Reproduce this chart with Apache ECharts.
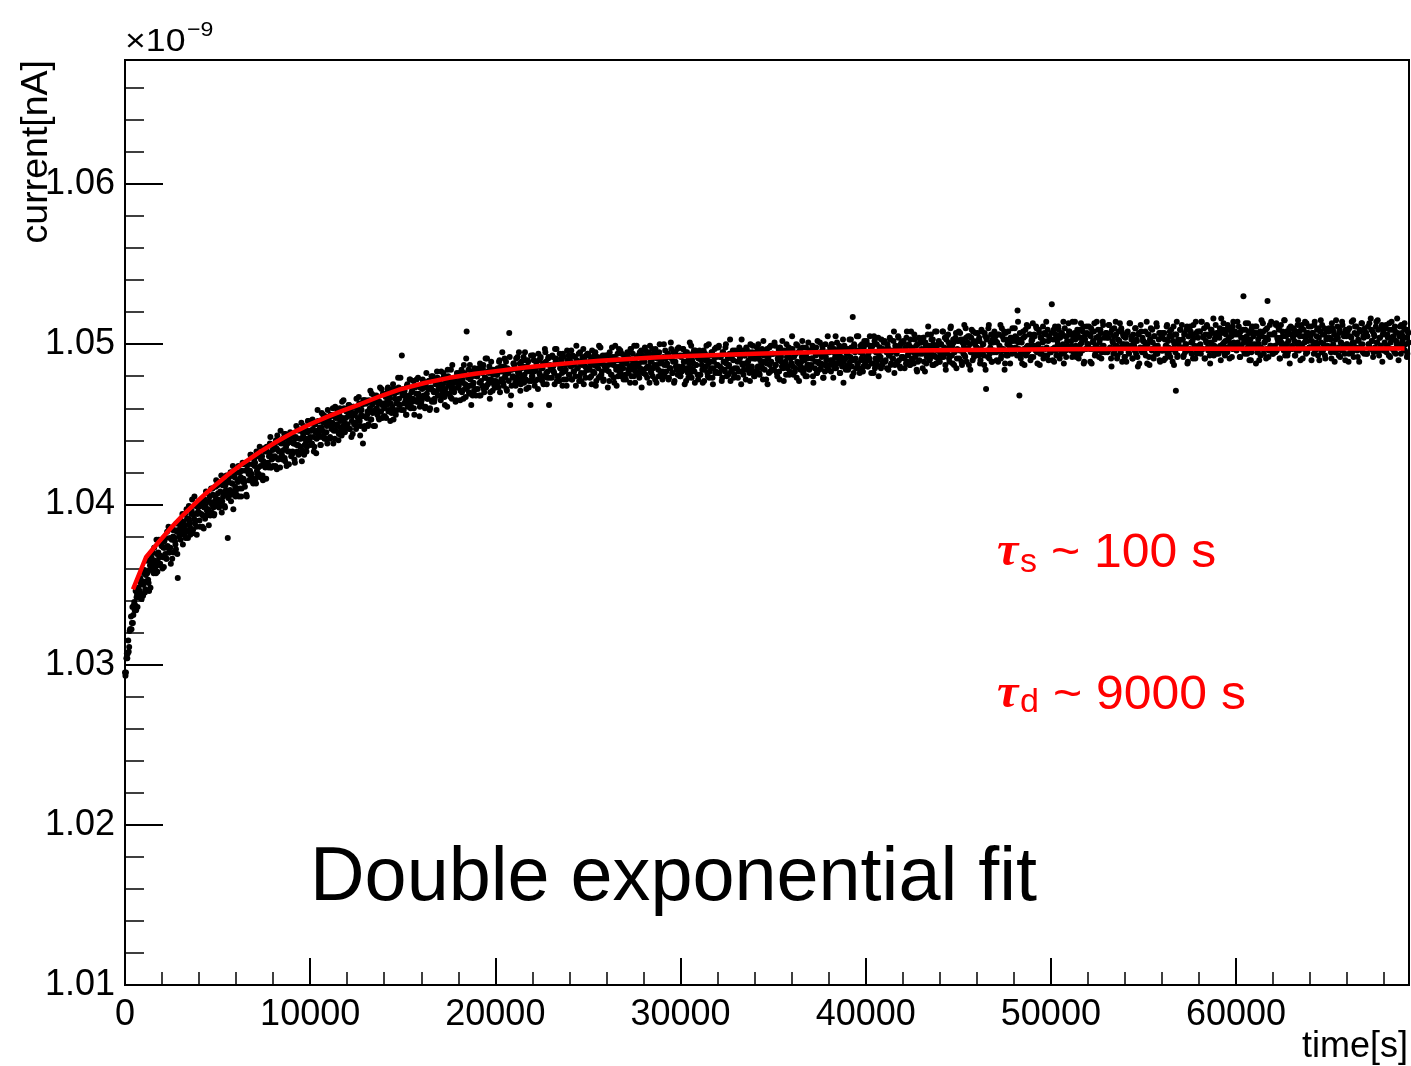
<!DOCTYPE html>
<html>
<head>
<meta charset="utf-8">
<title>Double exponential fit</title>
<script src="https://cdn.jsdelivr.net/npm/echarts@6/dist/echarts.min.js"></script>
<style>
  html, body { margin: 0; padding: 0; background: #fff; }
  #chart { width: 1411px; height: 1066px; }
</style>
</head>
<body>
<div id="chart"></div>
<script>
// two interleaved reading streams, one every SAMPLE_STEP s each; current in units of 1e-9
const SAMPLE_STEP = 50;
const ODD_OFFSET = 25;

// readings at t = 0, 50, 100, ...
const currentEven = [
  1.0295,1.0295,1.0307,1.0307,1.0308,1.0321,1.0322,1.0322,1.0336,1.0331,1.0339,1.0337,1.0334,1.0344,1.0348,1.0342,1.0346,1.0351,1.0341,1.0352,
  1.0350,1.0359,1.0347,1.0365,1.0357,1.0353,1.0346,1.0362,1.0365,1.0360,1.0370,1.0357,1.0365,1.0361,1.0378,1.0358,1.0370,1.0367,1.0363,1.0375,
  1.0374,1.0367,1.0361,1.0373,1.0379,1.0366,1.0374,1.0386,1.0370,1.0373,1.0385,1.0366,1.0380,1.0384,1.0377,1.0372,1.0383,1.0354,1.0389,1.0381,
  1.0378,1.0386,1.0394,1.0384,1.0381,1.0394,1.0384,1.0391,1.0379,1.0399,1.0389,1.0385,1.0396,1.0382,1.0394,1.0405,1.0390,1.0386,1.0394,1.0398,
  1.0395,1.0386,1.0399,1.0402,1.0393,1.0385,1.0403,1.0399,1.0393,1.0407,1.0397,1.0402,1.0393,1.0410,1.0400,1.0406,1.0393,1.0402,1.0411,1.0399,
  1.0412,1.0403,1.0399,1.0408,1.0418,1.0402,1.0405,1.0414,1.0398,1.0409,1.0414,1.0379,1.0414,1.0407,1.0420,1.0406,1.0413,1.0397,1.0418,1.0411,
  1.0409,1.0420,1.0414,1.0405,1.0420,1.0417,1.0410,1.0426,1.0416,1.0414,1.0426,1.0406,1.0422,1.0425,1.0415,1.0421,1.0431,1.0419,1.0414,1.0425,
  1.0424,1.0416,1.0433,1.0419,1.0423,1.0431,1.0417,1.0428,1.0430,1.0415,1.0426,1.0433,1.0424,1.0436,1.0426,1.0423,1.0432,1.0442,1.0423,1.0430,
  1.0424,1.0435,1.0430,1.0440,1.0422,1.0434,1.0439,1.0429,1.0446,1.0433,1.0428,1.0438,1.0444,1.0427,1.0436,1.0441,1.0433,1.0425,1.0444,1.0439,
  1.0442,1.0433,1.0438,1.0428,1.0441,1.0449,1.0433,1.0437,1.0446,1.0432,1.0441,1.0427,1.0445,1.0449,1.0437,1.0441,1.0433,1.0445,1.0452,1.0440,
  1.0442,1.0451,1.0438,1.0447,1.0433,1.0450,1.0445,1.0441,1.0459,1.0444,1.0452,1.0437,1.0448,1.0442,1.0456,1.0444,1.0451,1.0441,1.0449,1.0459,
  1.0453,1.0441,1.0456,1.0447,1.0451,1.0438,1.0456,1.0461,1.0446,1.0450,1.0454,1.0444,1.0460,1.0448,1.0443,1.0454,1.0465,1.0451,1.0447,1.0458,
  1.0448,1.0455,1.0462,1.0447,1.0458,1.0452,1.0444,1.0461,1.0456,1.0451,1.0466,1.0449,1.0459,1.0463,1.0443,1.0456,1.0462,1.0438,1.0465,1.0449,
  1.0465,1.0454,1.0458,1.0450,1.0464,1.0471,1.0453,1.0462,1.0458,1.0468,1.0449,1.0464,1.0460,1.0467,1.0454,1.0464,1.0458,1.0472,1.0454,1.0463,
  1.0460,1.0469,1.0454,1.0464,1.0473,1.0459,1.0467,1.0463,1.0457,1.0472,1.0453,1.0469,1.0472,1.0463,1.0459,1.0479,1.0466,1.0462,1.0471,1.0493,
  1.0468,1.0459,1.0471,1.0465,1.0456,1.0475,1.0463,1.0468,1.0478,1.0461,1.0471,1.0466,1.0460,1.0474,1.0465,1.0478,1.0464,1.0469,1.0455,1.0473,
  1.0463,1.0472,1.0477,1.0467,1.0460,1.0474,1.0469,1.0466,1.0477,1.0459,1.0472,1.0480,1.0465,1.0471,1.0464,1.0477,1.0470,1.0483,1.0468,1.0475,
  1.0478,1.0465,1.0474,1.0470,1.0482,1.0467,1.0472,1.0477,1.0461,1.0480,1.0469,1.0475,1.0484,1.0466,1.0473,1.0471,1.0479,1.0464,1.0476,1.0481,
  1.0473,1.0482,1.0465,1.0479,1.0470,1.0476,1.0487,1.0472,1.0467,1.0508,1.0474,1.0484,1.0469,1.0478,1.0462,1.0480,1.0475,1.0471,1.0483,1.0468,
  1.0480,1.0472,1.0485,1.0476,1.0468,1.0483,1.0474,1.0487,1.0470,1.0479,1.0473,1.0491,1.0475,1.0482,1.0466,1.0478,1.0484,1.0471,1.0477,1.0474,
  1.0473,1.0484,1.0481,1.0476,1.0489,1.0470,1.0486,1.0478,1.0483,1.0474,1.0491,1.0479,1.0472,1.0485,1.0482,1.0507,1.0462,1.0468,1.0484,1.0480,
  1.0488,1.0479,1.0474,1.0484,1.0492,1.0477,1.0482,1.0471,1.0489,1.0480,1.0486,1.0476,1.0495,1.0478,1.0483,1.0490,1.0473,1.0485,1.0462,1.0477,
  1.0480,1.0493,1.0483,1.0477,1.0489,1.0486,1.0472,1.0490,1.0481,1.0492,1.0478,1.0485,1.0475,1.0488,1.0495,1.0482,1.0479,1.0491,1.0462,1.0487,
  1.0486,1.0479,1.0492,1.0483,1.0475,1.0489,1.0497,1.0480,1.0488,1.0477,1.0485,1.0491,1.0482,1.0494,1.0478,1.0487,1.0484,1.0474,1.0490,1.0493,
  1.0481,1.0489,1.0496,1.0478,1.0487,1.0483,1.0492,1.0474,1.0490,1.0485,1.0494,1.0480,1.0488,1.0477,1.0491,1.0497,1.0482,1.0486,1.0493,1.0484,
  1.0494,1.0484,1.0479,1.0490,1.0475,1.0492,1.0487,1.0482,1.0495,1.0477,1.0489,1.0485,1.0499,1.0480,1.0488,1.0483,1.0493,1.0478,1.0486,1.0491,
  1.0484,1.0493,1.0487,1.0477,1.0491,1.0481,1.0498,1.0489,1.0479,1.0492,1.0486,1.0474,1.0494,1.0490,1.0483,1.0496,1.0480,1.0488,1.0485,1.0493,
  1.0491,1.0478,1.0489,1.0494,1.0482,1.0486,1.0497,1.0480,1.0490,1.0484,1.0499,1.0476,1.0487,1.0492,1.0481,1.0488,1.0495,1.0483,1.0473,1.0493,
  1.0482,1.0489,1.0496,1.0485,1.0479,1.0493,1.0486,1.0499,1.0483,1.0490,1.0480,1.0494,1.0487,1.0497,1.0476,1.0491,1.0484,1.0495,1.0488,1.0481,
  1.0490,1.0483,1.0500,1.0480,1.0491,1.0487,1.0494,1.0478,1.0492,1.0485,1.0497,1.0482,1.0489,1.0476,1.0495,1.0486,1.0493,1.0481,1.0498,1.0484,
  1.0480,1.0493,1.0486,1.0497,1.0484,1.0489,1.0477,1.0495,1.0482,1.0491,1.0501,1.0485,1.0479,1.0494,1.0488,1.0483,1.0496,1.0487,1.0492,1.0478,
  1.0491,1.0481,1.0494,1.0487,1.0476,1.0496,1.0484,1.0490,1.0499,1.0482,1.0488,1.0479,1.0493,1.0485,1.0495,1.0475,1.0489,1.0497,1.0483,1.0492,
  1.0487,1.0498,1.0482,1.0492,1.0485,1.0479,1.0495,1.0489,1.0483,1.0500,1.0480,1.0491,1.0486,1.0494,1.0477,1.0493,1.0484,1.0490,1.0481,1.0496,
  1.0494,1.0485,1.0479,1.0496,1.0491,1.0483,1.0503,1.0487,1.0481,1.0493,1.0488,1.0498,1.0484,1.0489,1.0495,1.0477,1.0492,1.0486,1.0499,1.0482,
  1.0480,1.0491,1.0495,1.0485,1.0500,1.0482,1.0490,1.0487,1.0497,1.0478,1.0493,1.0484,1.0496,1.0488,1.0475,1.0492,1.0498,1.0483,1.0489,1.0494,
  1.0494,1.0484,1.0499,1.0487,1.0482,1.0491,1.0497,1.0478,1.0493,1.0489,1.0502,1.0485,1.0488,1.0496,1.0481,1.0492,1.0486,1.0498,1.0483,1.0491,
  1.0488,1.0497,1.0481,1.0493,1.0485,1.0500,1.0489,1.0495,1.0477,1.0496,1.0486,1.0492,1.0498,1.0483,1.0490,1.0480,1.0494,1.0487,1.0501,1.0484,
  1.0496,1.0487,1.0491,1.0480,1.0498,1.0485,1.0493,1.0482,1.0502,1.0489,1.0484,1.0495,1.0488,1.0499,1.0479,1.0494,1.0483,1.0492,1.0486,1.0505,
  1.0484,1.0495,1.0490,1.0500,1.0487,1.0479,1.0497,1.0492,1.0485,1.0501,1.0488,1.0494,1.0482,1.0498,1.0489,1.0496,1.0476,1.0499,1.0491,1.0486,
  1.0494,1.0484,1.0497,1.0489,1.0503,1.0486,1.0517,1.0482,1.0499,1.0491,1.0496,1.0488,1.0505,1.0485,1.0495,1.0490,1.0500,1.0483,1.0498,1.0487,
  1.0489,1.0502,1.0486,1.0494,1.0491,1.0499,1.0482,1.0496,1.0488,1.0505,1.0485,1.0495,1.0500,1.0490,1.0480,1.0498,1.0492,1.0503,1.0487,1.0497,
  1.0501,1.0489,1.0496,1.0485,1.0498,1.0493,1.0504,1.0487,1.0495,1.0491,1.0502,1.0482,1.0499,1.0488,1.0497,1.0505,1.0490,1.0486,1.0500,1.0492,
  1.0492,1.0501,1.0485,1.0498,1.0504,1.0489,1.0494,1.0499,1.0487,1.0508,1.0491,1.0496,1.0488,1.0503,1.0493,1.0484,1.0500,1.0495,1.0490,1.0502,
  1.0501,1.0494,1.0504,1.0489,1.0483,1.0499,1.0492,1.0506,1.0495,1.0490,1.0498,1.0503,1.0487,1.0500,1.0493,1.0508,1.0488,1.0497,1.0491,1.0502,
  1.0489,1.0500,1.0496,1.0508,1.0492,1.0498,1.0487,1.0503,1.0494,1.0506,1.0491,1.0499,1.0511,1.0493,1.0488,1.0501,1.0495,1.0504,1.0485,1.0497,
  1.0502,1.0491,1.0507,1.0496,1.0487,1.0503,1.0499,1.0493,1.0510,1.0489,1.0501,1.0497,1.0505,1.0484,1.0504,1.0495,1.0508,1.0492,1.0500,1.0494,
  1.0498,1.0507,1.0493,1.0502,1.0490,1.0509,1.0495,1.0500,1.0487,1.0505,1.0472,1.0504,1.0492,1.0512,1.0494,1.0501,1.0489,1.0503,1.0496,1.0508,
  1.0505,1.0495,1.0501,1.0489,1.0506,1.0498,1.0491,1.0510,1.0496,1.0503,1.0484,1.0507,1.0493,1.0500,1.0508,1.0497,1.0488,1.0504,1.0494,1.0502,
  1.0495,1.0510,1.0498,1.0504,1.0521,1.0501,1.0468,1.0494,1.0503,1.0488,1.0508,1.0497,1.0505,1.0493,1.0512,1.0499,1.0496,1.0506,1.0490,1.0502,
  1.0503,1.0492,1.0506,1.0499,1.0511,1.0495,1.0498,1.0509,1.0487,1.0504,1.0494,1.0501,1.0491,1.0507,1.0497,1.0514,1.0493,1.0502,1.0505,1.0496,
  1.0495,1.0525,1.0490,1.0509,1.0498,1.0506,1.0493,1.0502,1.0511,1.0497,1.0504,1.0494,1.0507,1.0500,1.0488,1.0510,1.0496,1.0505,1.0499,1.0513,
  1.0508,1.0498,1.0502,1.0492,1.0505,1.0495,1.0514,1.0499,1.0494,1.0506,1.0491,1.0509,1.0500,1.0504,1.0496,1.0511,1.0489,1.0503,1.0497,1.0507,
  1.0500,1.0511,1.0497,1.0505,1.0488,1.0508,1.0501,1.0513,1.0494,1.0504,1.0498,1.0509,1.0492,1.0503,1.0507,1.0495,1.0514,1.0499,1.0496,1.0506,
  1.0507,1.0495,1.0504,1.0512,1.0498,1.0491,1.0509,1.0501,1.0505,1.0496,1.0514,1.0499,1.0493,1.0508,1.0502,1.0497,1.0510,1.0489,1.0506,1.0500,
  1.0492,1.0505,1.0500,1.0508,1.0495,1.0513,1.0498,1.0503,1.0491,1.0506,1.0499,1.0510,1.0494,1.0502,1.0486,1.0507,1.0497,1.0512,1.0496,1.0504,
  1.0502,1.0495,1.0508,1.0498,1.0488,1.0506,1.0492,1.0503,1.0510,1.0496,1.0501,1.0491,1.0505,1.0499,1.0513,1.0494,1.0497,1.0507,1.0489,1.0504,
  1.0496,1.0507,1.0490,1.0503,1.0499,1.0511,1.0494,1.0498,1.0505,1.0492,1.0509,1.0497,1.0502,1.0487,1.0506,1.0471,1.0514,1.0493,1.0501,1.0498,
  1.0509,1.0498,1.0503,1.0492,1.0506,1.0495,1.0500,1.0511,1.0489,1.0505,1.0497,1.0508,1.0494,1.0502,1.0512,1.0499,1.0491,1.0507,1.0496,1.0504,
  1.0499,1.0508,1.0494,1.0514,1.0497,1.0504,1.0491,1.0506,1.0501,1.0511,1.0496,1.0505,1.0488,1.0509,1.0500,1.0507,1.0493,1.0503,1.0512,1.0498,
  1.0507,1.0494,1.0504,1.0499,1.0516,1.0496,1.0509,1.0501,1.0493,1.0506,1.0498,1.0512,1.0502,1.0491,1.0510,1.0505,1.0497,1.0514,1.0500,1.0508,
  1.0497,1.0506,1.0501,1.0511,1.0492,1.0508,1.0499,1.0504,1.0530,1.0495,1.0509,1.0502,1.0494,1.0513,1.0500,1.0507,1.0490,1.0510,1.0498,1.0505,
  1.0507,1.0500,1.0511,1.0495,1.0503,1.0490,1.0508,1.0498,1.0505,1.0513,1.0494,1.0501,1.0509,1.0497,1.0527,1.0492,1.0506,1.0499,1.0514,1.0496,
  1.0494,1.0506,1.0499,1.0512,1.0496,1.0503,1.0510,1.0491,1.0504,1.0501,1.0508,1.0497,1.0515,1.0493,1.0505,1.0500,1.0495,1.0507,1.0488,1.0511,
  1.0506,1.0497,1.0510,1.0502,1.0493,1.0508,1.0500,1.0515,1.0496,1.0505,1.0499,1.0512,1.0491,1.0509,1.0501,1.0504,1.0513,1.0495,1.0507,1.0498,
  1.0498,1.0511,1.0502,1.0507,1.0494,1.0514,1.0497,1.0505,1.0500,1.0510,1.0490,1.0508,1.0501,1.0512,1.0496,1.0506,1.0493,1.0509,1.0504,1.0499,
  1.0508,1.0498,1.0503,1.0491,1.0510,1.0500,1.0506,1.0495,1.0515,1.0497,1.0504,1.0493,1.0509,1.0501,1.0496,1.0512,1.0499,1.0507,1.0490,1.0505,
  1.0500,1.0509,1.0494,1.0505,1.0497,1.0514,1.0501,1.0492,1.0507,1.0498,1.0511,1.0496,1.0503,1.0489,1.0508,1.0499,1.0513,1.0495,1.0504,1.0510,
  1.0507,1.0494,1.0505,1.0500,1.0513,1.0497,1.0509,1.0502,1.0492,1.0506,1.0498,1.0511,1.0501,1.0515,1.0495,1.0504,1.0499,1.0510,1.0489,1.0508,
  1.0496,1.0506,1.0512,1.0499,1.0504,1.0493,1.0509,1.0501,1.0514,1.0497,1.0505,1.0495,1.0508,1.0502,1.0516,1.0498,1.0500,1.0511,1.0494,1.0507,
  1.0505,1.0497,1.0513,1.0500,1.0509,1.0494,1.0507
];

// readings at t = 25, 75, 125, ...
const currentOdd = [
  1.0293,1.0304,1.0304,1.0315,1.0311,1.0322,1.0330,1.0326,1.0326,1.0337,1.0334,1.0346,1.0342,1.0336,1.0348,1.0343,1.0354,1.0343,1.0350,1.0343,
  1.0357,1.0345,1.0356,1.0352,1.0365,1.0351,1.0359,1.0348,1.0367,1.0364,1.0358,1.0373,1.0362,1.0357,1.0369,1.0364,1.0378,1.0362,1.0368,1.0374,
  1.0360,1.0373,1.0377,1.0369,1.0366,1.0383,1.0373,1.0370,1.0379,1.0363,1.0378,1.0384,1.0370,1.0379,1.0375,1.0388,1.0369,1.0384,1.0380,1.0387,
  1.0390,1.0382,1.0375,1.0389,1.0387,1.0379,1.0397,1.0383,1.0391,1.0387,1.0381,1.0394,1.0403,1.0384,1.0391,1.0388,1.0399,1.0381,1.0395,1.0401,
  1.0390,1.0402,1.0394,1.0386,1.0401,1.0398,1.0391,1.0408,1.0396,1.0402,1.0387,1.0405,1.0401,1.0395,1.0410,1.0398,1.0394,1.0405,1.0415,1.0402,
  1.0407,1.0398,1.0414,1.0402,1.0395,1.0412,1.0407,1.0399,1.0412,1.0418,1.0407,1.0404,1.0417,1.0409,1.0402,1.0413,1.0424,1.0408,1.0417,1.0405,
  1.0406,1.0415,1.0424,1.0410,1.0416,1.0405,1.0421,1.0414,1.0425,1.0411,1.0421,1.0405,1.0425,1.0419,1.0415,1.0431,1.0417,1.0425,1.0413,1.0428,
  1.0426,1.0413,1.0421,1.0430,1.0419,1.0436,1.0424,1.0428,1.0418,1.0427,1.0435,1.0423,1.0416,1.0433,1.0425,1.0430,1.0438,1.0423,1.0428,1.0434,
  1.0429,1.0437,1.0424,1.0435,1.0443,1.0428,1.0433,1.0423,1.0438,1.0431,1.0441,1.0434,1.0429,1.0444,1.0424,1.0438,1.0441,1.0433,1.0445,1.0430,
  1.0444,1.0432,1.0438,1.0426,1.0442,1.0437,1.0447,1.0431,1.0441,1.0436,1.0451,1.0434,1.0443,1.0431,1.0447,1.0439,1.0436,1.0452,1.0441,1.0446,
  1.0437,1.0446,1.0453,1.0442,1.0436,1.0450,1.0432,1.0446,1.0452,1.0442,1.0448,1.0437,1.0457,1.0446,1.0451,1.0441,1.0455,1.0445,1.0438,1.0454,
  1.0451,1.0442,1.0455,1.0449,1.0460,1.0446,1.0441,1.0454,1.0449,1.0459,1.0440,1.0456,1.0452,1.0446,1.0464,1.0449,1.0460,1.0445,1.0454,1.0448,
  1.0450,1.0462,1.0447,1.0458,1.0442,1.0455,1.0461,1.0450,1.0457,1.0447,1.0460,1.0454,1.0467,1.0452,1.0449,1.0459,1.0455,1.0465,1.0447,1.0463,
  1.0463,1.0456,1.0449,1.0465,1.0460,1.0453,1.0469,1.0457,1.0449,1.0464,1.0459,1.0468,1.0456,1.0463,1.0453,1.0473,1.0458,1.0462,1.0469,1.0455,
  1.0455,1.0467,1.0462,1.0472,1.0458,1.0466,1.0452,1.0470,1.0461,1.0475,1.0459,1.0466,1.0456,1.0470,1.0463,1.0473,1.0462,1.0479,1.0459,1.0469,
  1.0472,1.0463,1.0468,1.0456,1.0474,1.0461,1.0466,1.0478,1.0460,1.0470,1.0464,1.0477,1.0456,1.0473,1.0469,1.0464,1.0479,1.0467,1.0461,1.0473,
  1.0465,1.0478,1.0468,1.0473,1.0461,1.0482,1.0466,1.0472,1.0477,1.0460,1.0473,1.0464,1.0480,1.0470,1.0466,1.0475,1.0459,1.0479,1.0472,1.0477,
  1.0468,1.0483,1.0471,1.0475,1.0480,1.0462,1.0478,1.0469,1.0484,1.0474,1.0478,1.0467,1.0472,1.0487,1.0476,1.0470,1.0479,1.0465,1.0482,1.0473,
  1.0474,1.0477,1.0471,1.0484,1.0478,1.0466,1.0482,1.0475,1.0491,1.0473,1.0479,1.0470,1.0487,1.0474,1.0483,1.0468,1.0476,1.0485,1.0472,1.0480,
  1.0480,1.0484,1.0468,1.0488,1.0477,1.0482,1.0485,1.0472,1.0479,1.0491,1.0474,1.0483,1.0478,1.0486,1.0470,1.0489,1.0476,1.0481,1.0484,1.0473,
  1.0477,1.0481,1.0485,1.0473,1.0490,1.0483,1.0478,1.0495,1.0476,1.0486,1.0480,1.0489,1.0471,1.0482,1.0477,1.0492,1.0484,1.0474,1.0479,1.0488,
  1.0487,1.0476,1.0491,1.0479,1.0482,1.0495,1.0488,1.0475,1.0485,1.0478,1.0492,1.0481,1.0490,1.0472,1.0486,1.0489,1.0477,1.0483,1.0493,1.0480,
  1.0493,1.0490,1.0474,1.0484,1.0487,1.0478,1.0494,1.0482,1.0491,1.0485,1.0477,1.0488,1.0480,1.0497,1.0489,1.0475,1.0483,1.0492,1.0479,1.0486,
  1.0484,1.0493,1.0486,1.0482,1.0497,1.0491,1.0477,1.0488,1.0480,1.0494,1.0485,1.0490,1.0474,1.0492,1.0483,1.0487,1.0478,1.0496,1.0489,1.0481,
  1.0491,1.0486,1.0478,1.0493,1.0483,1.0488,1.0480,1.0499,1.0485,1.0489,1.0477,1.0495,1.0482,1.0487,1.0492,1.0475,1.0490,1.0479,1.0484,1.0494,
  1.0493,1.0485,1.0488,1.0480,1.0496,1.0483,1.0490,1.0494,1.0474,1.0486,1.0492,1.0479,1.0489,1.0498,1.0481,1.0491,1.0477,1.0487,1.0493,1.0484,
  1.0493,1.0473,1.0483,1.0495,1.0488,1.0481,1.0492,1.0487,1.0476,1.0499,1.0484,1.0490,1.0480,1.0497,1.0486,1.0482,1.0494,1.0489,1.0478,1.0491,
  1.0481,1.0488,1.0495,1.0484,1.0491,1.0476,1.0497,1.0487,1.0494,1.0480,1.0490,1.0483,1.0499,1.0486,1.0493,1.0479,1.0485,1.0496,1.0489,1.0482,
  1.0484,1.0498,1.0481,1.0493,1.0486,1.0495,1.0476,1.0489,1.0482,1.0497,1.0485,1.0492,1.0478,1.0494,1.0487,1.0491,1.0480,1.0500,1.0483,1.0490,
  1.0478,1.0492,1.0487,1.0496,1.0483,1.0488,1.0494,1.0479,1.0485,1.0501,1.0491,1.0482,1.0495,1.0477,1.0489,1.0484,1.0497,1.0486,1.0493,1.0480,
  1.0492,1.0483,1.0497,1.0489,1.0475,1.0495,1.0485,1.0493,1.0479,1.0488,1.0482,1.0499,1.0490,1.0484,1.0496,1.0476,1.0487,1.0494,1.0481,1.0491,
  1.0496,1.0481,1.0490,1.0484,1.0493,1.0477,1.0494,1.0486,1.0491,1.0480,1.0500,1.0483,1.0489,1.0495,1.0479,1.0485,1.0492,1.0482,1.0498,1.0487,
  1.0482,1.0499,1.0486,1.0492,1.0477,1.0495,1.0489,1.0484,1.0498,1.0488,1.0493,1.0481,1.0487,1.0503,1.0483,1.0491,1.0496,1.0479,1.0485,1.0494,
  1.0494,1.0489,1.0483,1.0498,1.0492,1.0475,1.0488,1.0496,1.0484,1.0493,1.0478,1.0497,1.0487,1.0490,1.0482,1.0500,1.0485,1.0495,1.0491,1.0480,
  1.0491,1.0483,1.0498,1.0486,1.0492,1.0481,1.0496,1.0488,1.0485,1.0502,1.0489,1.0493,1.0478,1.0497,1.0491,1.0482,1.0487,1.0499,1.0484,1.0494,
  1.0484,1.0501,1.0487,1.0494,1.0480,1.0490,1.0483,1.0498,1.0492,1.0486,1.0496,1.0477,1.0495,1.0489,1.0500,1.0485,1.0493,1.0481,1.0497,1.0488,
  1.0505,1.0486,1.0492,1.0483,1.0494,1.0479,1.0499,1.0488,1.0495,1.0484,1.0489,1.0502,1.0482,1.0493,1.0485,1.0498,1.0480,1.0491,1.0487,1.0496,
  1.0486,1.0491,1.0499,1.0476,1.0496,1.0489,1.0498,1.0482,1.0494,1.0488,1.0501,1.0485,1.0492,1.0497,1.0479,1.0487,1.0500,1.0490,1.0495,1.0484,
  1.0487,1.0498,1.0483,1.0500,1.0490,1.0495,1.0485,1.0505,1.0488,1.0496,1.0491,1.0499,1.0482,1.0492,1.0486,1.0503,1.0489,1.0497,1.0484,1.0494,
  1.0497,1.0487,1.0503,1.0492,1.0498,1.0480,1.0490,1.0500,1.0495,1.0485,1.0505,1.0488,1.0496,1.0482,1.0499,1.0491,1.0494,1.0486,1.0502,1.0489,
  1.0492,1.0500,1.0486,1.0490,1.0505,1.0497,1.0488,1.0499,1.0482,1.0502,1.0491,1.0495,1.0487,1.0504,1.0493,1.0498,1.0485,1.0496,1.0489,1.0501,
  1.0502,1.0490,1.0495,1.0500,1.0484,1.0493,1.0503,1.0488,1.0496,1.0491,1.0508,1.0487,1.0499,1.0494,1.0489,1.0504,1.0498,1.0485,1.0501,1.0492,
  1.0502,1.0491,1.0497,1.0488,1.0508,1.0493,1.0500,1.0487,1.0503,1.0498,1.0490,1.0495,1.0506,1.0492,1.0499,1.0483,1.0489,1.0504,1.0494,1.0501,
  1.0497,1.0485,1.0504,1.0495,1.0501,1.0488,1.0493,1.0511,1.0499,1.0491,1.0506,1.0494,1.0503,1.0487,1.0498,1.0492,1.0508,1.0496,1.0500,1.0489,
  1.0494,1.0500,1.0492,1.0508,1.0495,1.0504,1.0484,1.0505,1.0497,1.0501,1.0489,1.0510,1.0493,1.0499,1.0503,1.0487,1.0496,1.0507,1.0491,1.0502,
  1.0508,1.0496,1.0503,1.0489,1.0501,1.0494,1.0512,1.0492,1.0504,1.0497,1.0505,1.0487,1.0500,1.0495,1.0509,1.0490,1.0502,1.0493,1.0507,1.0498,
  1.0502,1.0494,1.0504,1.0488,1.0497,1.0508,1.0500,1.0493,1.0507,1.0484,1.0503,1.0496,1.0510,1.0491,1.0498,1.0506,1.0489,1.0501,1.0495,1.0505,
  1.0502,1.0490,1.0506,1.0496,1.0499,1.0512,1.0493,1.0505,1.0497,1.0508,1.0488,1.0503,1.0494,1.0493,1.0501,1.0501,1.0504,1.0498,1.0510,1.0495,
  1.0496,1.0505,1.0502,1.0493,1.0514,1.0497,1.0507,1.0491,1.0501,1.0494,1.0504,1.0487,1.0509,1.0498,1.0495,1.0511,1.0499,1.0506,1.0492,1.0503,
  1.0513,1.0499,1.0505,1.0496,1.0510,1.0488,1.0500,1.0507,1.0494,1.0504,1.0497,1.0511,1.0502,1.0493,1.0506,1.0498,1.0509,1.0490,1.0503,1.0495,
  1.0507,1.0497,1.0503,1.0489,1.0511,1.0496,1.0504,1.0500,1.0509,1.0491,1.0506,1.0494,1.0499,1.0514,1.0495,1.0505,1.0492,1.0502,1.0498,1.0508,
  1.0506,1.0496,1.0499,1.0514,1.0495,1.0507,1.0503,1.0492,1.0509,1.0498,1.0504,1.0494,1.0513,1.0501,1.0508,1.0488,1.0505,1.0497,1.0511,1.0500,
  1.0500,1.0506,1.0489,1.0510,1.0497,1.0502,1.0508,1.0493,1.0499,1.0514,1.0496,1.0505,1.0501,1.0509,1.0491,1.0498,1.0512,1.0504,1.0495,1.0507,
  1.0504,1.0496,1.0512,1.0497,1.0507,1.0486,1.0502,1.0494,1.0510,1.0499,1.0506,1.0491,1.0503,1.0498,1.0513,1.0495,1.0508,1.0500,1.0505,1.0492,
  1.0504,1.0489,1.0507,1.0497,1.0494,1.0513,1.0499,1.0505,1.0491,1.0501,1.0496,1.0510,1.0503,1.0492,1.0506,1.0488,1.0498,1.0508,1.0495,1.0502,
  1.0498,1.0501,1.0493,1.0514,1.0500,1.0506,1.0487,1.0502,1.0497,1.0509,1.0492,1.0505,1.0498,1.0494,1.0511,1.0499,1.0503,1.0490,1.0507,1.0496,
  1.0504,1.0496,1.0507,1.0491,1.0499,1.0512,1.0502,1.0494,1.0508,1.0497,1.0505,1.0489,1.0511,1.0500,1.0495,1.0506,1.0492,1.0503,1.0498,1.0509,
  1.0498,1.0512,1.0503,1.0493,1.0507,1.0500,1.0509,1.0488,1.0505,1.0496,1.0511,1.0501,1.0506,1.0491,1.0504,1.0497,1.0514,1.0494,1.0508,1.0499,
  1.0508,1.0500,1.0514,1.0497,1.0505,1.0510,1.0491,1.0502,1.0512,1.0498,1.0506,1.0493,1.0501,1.0509,1.0496,1.0516,1.0499,1.0504,1.0494,1.0507,
  1.0505,1.0498,1.0510,1.0490,1.0507,1.0500,1.0513,1.0494,1.0502,1.0509,1.0495,1.0503,1.0504,1.0499,1.0508,1.0492,1.0511,1.0501,1.0506,1.0497,
  1.0496,1.0514,1.0499,1.0506,1.0492,1.0504,1.0497,1.0509,1.0501,1.0494,1.0513,1.0505,1.0498,1.0508,1.0490,1.0503,1.0495,1.0511,1.0500,1.0507,
  1.0511,1.0488,1.0507,1.0495,1.0500,1.0505,1.0493,1.0515,1.0497,1.0508,1.0501,1.0504,1.0491,1.0510,1.0503,1.0496,1.0512,1.0499,1.0506,1.0494,
  1.0498,1.0507,1.0495,1.0513,1.0504,1.0501,1.0509,1.0491,1.0512,1.0499,1.0505,1.0496,1.0515,1.0500,1.0508,1.0493,1.0502,1.0510,1.0497,1.0506,
  1.0499,1.0504,1.0509,1.0493,1.0506,1.0496,1.0512,1.0501,1.0508,1.0490,1.0510,1.0500,1.0505,1.0497,1.0514,1.0494,1.0507,1.0502,1.0511,1.0498,
  1.0505,1.0490,1.0507,1.0499,1.0512,1.0496,1.0501,1.0509,1.0493,1.0504,1.0497,1.0515,1.0495,1.0506,1.0500,1.0510,1.0491,1.0503,1.0498,1.0508,
  1.0510,1.0504,1.0495,1.0513,1.0499,1.0508,1.0489,1.0503,1.0496,1.0511,1.0498,1.0507,1.0492,1.0501,1.0514,1.0497,1.0505,1.0494,1.0509,1.0500,
  1.0508,1.0489,1.0510,1.0499,1.0504,1.0495,1.0515,1.0501,1.0511,1.0498,1.0506,1.0492,1.0502,1.0509,1.0497,1.0513,1.0500,1.0505,1.0494,1.0507,
  1.0507,1.0494,1.0511,1.0500,1.0498,1.0516,1.0502,1.0508,1.0495,1.0505,1.0497,1.0514,1.0501,1.0509,1.0493,1.0504,1.0499,1.0512,1.0506,1.0496,
  1.0501,1.0510,1.0495,1.0506,1.0498,1.0513,1.0492,1.0504,1.0509,1.0497,1.0503,1.0511,1.0494,1.0500,1.0507,1.0490,1.0505,1.0499,1.0512,1.0502,
  1.0499,1.0510,1.0496,1.0504,1.0492,1.0508,1.0501
];

// double exponential fit curve (tau_s ~ 100 s, tau_d ~ 9000 s)
const fitTime = [432, 1134, 1830, 2430, 3150, 3890, 4700, 5510, 6400, 7290, 8180, 9070,
  10000, 10910, 11800, 12690, 13770, 14850, 16170, 17500, 18900, 20250, 21600, 22900,
  24300, 25650, 27200, 28800, 30400, 31970, 34000, 36000, 38000, 40000, 42500, 45000,
  47500, 50000, 55000, 60000, 65000, 69100];
const fitCurrent = [1.0347, 1.0367, 1.03767, 1.03847, 1.03935, 1.04018, 1.04103, 1.04181, 1.04258, 1.04328, 1.04391, 1.04448,
  1.04500, 1.04546, 1.04587, 1.04625, 1.04675, 1.04718, 1.04758, 1.0479, 1.04815, 1.04835, 1.04855, 1.0487,
  1.04885, 1.04897, 1.04908, 1.04918, 1.04926, 1.04933, 1.04941, 1.04947, 1.04952, 1.04956, 1.0496, 1.04963,
  1.04966, 1.04968, 1.04971, 1.04972, 1.04973, 1.04973];

const xMin = 0;
const xMax = 69340;
const xMajor = 10000;
const xMinor = 2000;
const yMin = 1.01;
const yMax = 1.06774;
const yMajor = 0.01;
const yMinor = 0.002;

const FONT = '"Liberation Sans", Arial, Helvetica, sans-serif';
const chart = echarts.init(document.getElementById('chart'), null, { renderer: 'canvas' });

const hidden = { show: false };

const points = currentEven.map((v, i) => [i * SAMPLE_STEP, v])
  .concat(currentOdd.map((v, i) => [ODD_OFFSET + i * SAMPLE_STEP, v]));

const option = {
  animation: false,
  backgroundColor: '#fff',
  grid: {
    left: 125,
    top: 60,
    width: 1284,
    height: 925,
    show: true,
    borderColor: '#000',
    borderWidth: 2,
    backgroundColor: 'transparent',
  },
  xAxis: [
    {
      type: 'value',
      min: xMin,
      max: xMax,
      interval: xMajor,
      axisLine: hidden,
      splitLine: hidden,
      axisTick: { show: true, inside: true, length: 27, lineStyle: { color: '#000', width: 2 } },
      axisLabel: {
        color: '#000',
        fontFamily: FONT,
        fontSize: 36,
        margin: 12,
        showMaxLabel: false,
        formatter: (v) => String(v),
      },
    },
    {
      // minor ticks
      type: 'value',
      position: 'bottom',
      min: xMin,
      max: xMax,
      interval: xMinor,
      axisLine: hidden,
      splitLine: hidden,
      axisLabel: hidden,
      axisTick: { show: true, inside: true, length: 13, lineStyle: { color: '#000', width: 1.5 } },
    },
  ],
  yAxis: [
    {
      type: 'value',
      min: yMin,
      max: yMax,
      interval: yMajor,
      axisLine: hidden,
      splitLine: hidden,
      axisTick: { show: true, inside: true, length: 38, lineStyle: { color: '#000', width: 2 } },
      axisLabel: {
        color: '#000',
        fontFamily: FONT,
        fontSize: 36,
        margin: 10,
        showMaxLabel: false,
        formatter: (v) => v.toFixed(2),
      },
    },
    {
      type: 'value',
      position: 'left',
      min: yMin,
      max: yMax,
      interval: yMinor,
      axisLine: hidden,
      splitLine: hidden,
      axisLabel: hidden,
      axisTick: { show: true, inside: true, length: 19, lineStyle: { color: '#000', width: 1.5 } },
    },
  ],
  series: [
    {
      name: 'data',
      type: 'scatter',
      xAxisIndex: 0,
      yAxisIndex: 0,
      symbolSize: 6,
      itemStyle: { color: '#000', opacity: 1 },
      silent: true,
      data: points,
      z: 2,
    },
    {
      name: 'fit',
      type: 'line',
      xAxisIndex: 0,
      yAxisIndex: 0,
      symbol: 'none',
      smooth: false,
      silent: true,
      lineStyle: { color: '#ff0000', width: 4.5 },
      data: fitTime.map((t, i) => [t, fitCurrent[i]]),
      z: 3,
    },
  ],
  graphic: [
    {
      type: 'text', x: 125, y: 42, scaleX: 1.15,
      style: { text: '×10', font: `31px ${FONT}`, fill: '#000', textAlign: 'left', textVerticalAlign: 'middle' },
    },
    {
      type: 'text', x: 187, y: 30, scaleX: 1.1,
      style: { text: '−9', font: `21px ${FONT}`, fill: '#000', textAlign: 'left', textVerticalAlign: 'middle' },
    },
    {
      type: 'text', x: 37, y: 60, rotation: Math.PI / 2,
      style: { text: 'current[nA]', font: `37.5px ${FONT}`, fill: '#000', textAlign: 'right', textVerticalAlign: 'middle' },
    },
    {
      type: 'text', x: 1408, y: 1047,
      style: { text: 'time[s]', font: `36px ${FONT}`, fill: '#000', textAlign: 'right', textVerticalAlign: 'middle' },
    },
    {
      type: 'text', x: 310, y: 879,
      style: { text: 'Double exponential fit', font: `75.6px ${FONT}`, fill: '#000', textAlign: 'left', textVerticalAlign: 'middle' },
    },
    // tau_s
    {
      type: 'text', x: 997, y: 553,
      style: { text: 'τ', font: 'italic bold 48px "Liberation Serif", serif', fill: '#ff0000', textAlign: 'left', textVerticalAlign: 'middle' },
    },
    {
      type: 'text', x: 1020, y: 563,
      style: { text: 's', font: `34px ${FONT}`, fill: '#ff0000', textAlign: 'left', textVerticalAlign: 'middle' },
    },
    {
      type: 'text', x: 1051, y: 554, scaleX: 1.04,
      style: { text: '~ 100 s', font: `48px ${FONT}`, fill: '#ff0000', textAlign: 'left', textVerticalAlign: 'middle' },
    },
    // tau_d
    {
      type: 'text', x: 997, y: 695,
      style: { text: 'τ', font: 'italic bold 48px "Liberation Serif", serif', fill: '#ff0000', textAlign: 'left', textVerticalAlign: 'middle' },
    },
    {
      type: 'text', x: 1020, y: 703,
      style: { text: 'd', font: `34px ${FONT}`, fill: '#ff0000', textAlign: 'left', textVerticalAlign: 'middle' },
    },
    {
      type: 'text', x: 1053, y: 696, scaleX: 1.04,
      style: { text: '~ 9000 s', font: `48px ${FONT}`, fill: '#ff0000', textAlign: 'left', textVerticalAlign: 'middle' },
    },
  ],
};

chart.setOption(option);
</script>
</body>
</html>
